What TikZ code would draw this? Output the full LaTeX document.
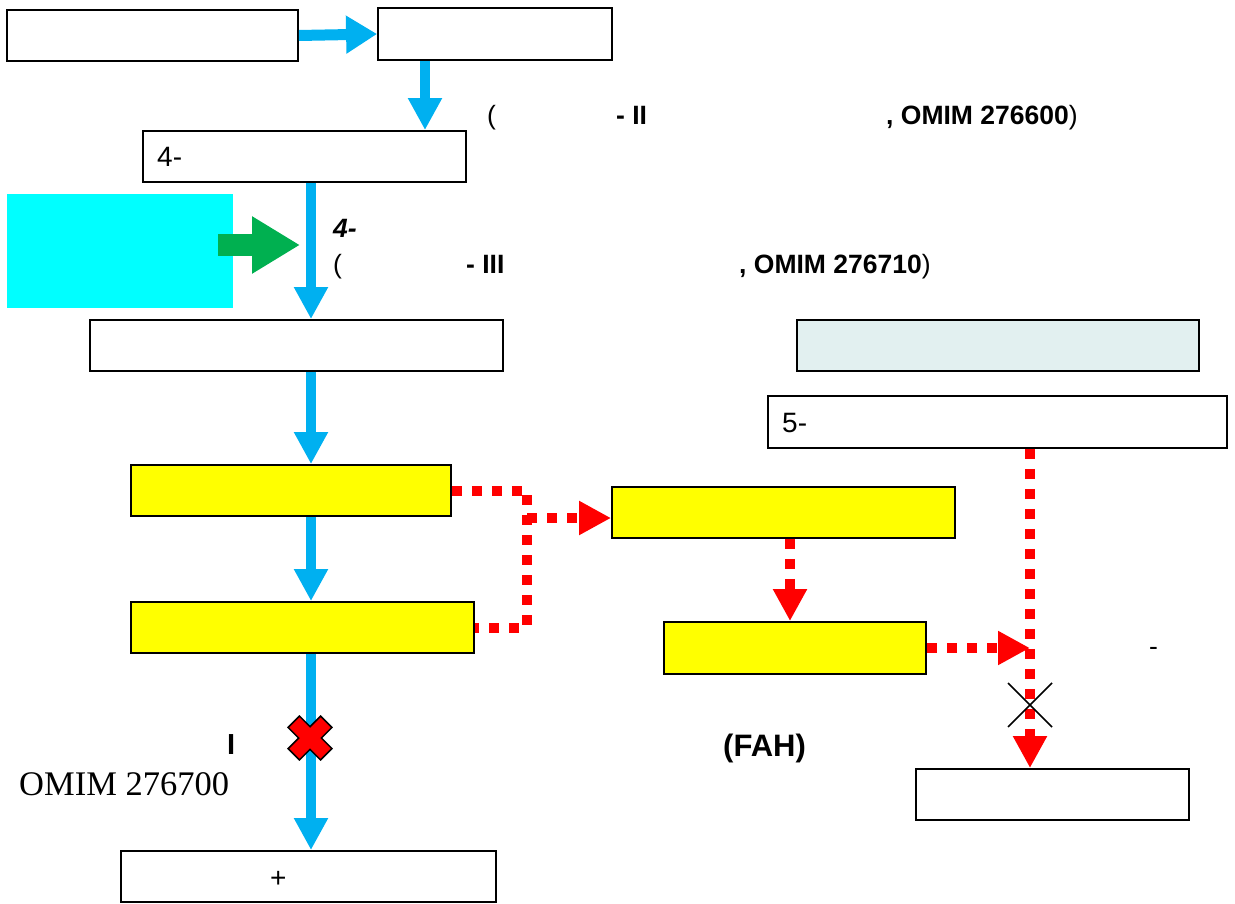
\documentclass[tikz,border=0pt]{standalone}
\usepackage{fontspec}
\setmainfont{Liberation Sans}
\newfontfamily\timesfont{Liberation Serif}
\usetikzlibrary{arrows.meta,calc}
\definecolor{arrblue}{HTML}{00B0F0}
\definecolor{arrgreen}{HTML}{00B050}
\definecolor{boxcyan}{HTML}{00FFFF}
\definecolor{boxpale}{HTML}{E2F0F0}
\definecolor{boxyellow}{HTML}{FFFF00}
\definecolor{arrred}{HTML}{FF0000}
\tikzset{
  box/.style={draw=black, line width=1.8pt, fill=white, inner sep=0pt},
  ybox/.style={box, fill=boxyellow},
  lbl/.style={anchor=base west, inner sep=0pt, font=\fontsize{26.5}{31}\selectfont},
  inlbl/.style={anchor=base west, inner sep=0pt, font=\fontsize{28}{33}\selectfont},
  bluearr/.style={draw=arrblue, line width=10pt, -{Triangle[length=32pt,width=32pt]}},
  redarr/.style={draw=arrred, line width=10pt, dash pattern=on 10pt off 10pt},
  redtip/.style={-{Triangle[length=32pt,width=32pt]}},
}
\begin{document}
\begin{tikzpicture}[x=1pt,y=-1pt]
\useasboundingbox (0,0) rectangle (1235,904);
% boxes
\node[box, minimum width=291pt, minimum height=51pt] (A) at (152.5,35.5) {};
\node[box, minimum width=234pt, minimum height=52pt] (B) at (495,34) {};
\node[box, minimum width=323pt, minimum height=51pt] (C) at (304.5,156.5) {};
\node[fill=boxcyan, inner sep=0pt, minimum width=226pt, minimum height=114pt] (cy) at (120,251) {};
\node[box, minimum width=413pt, minimum height=51pt] (D) at (296.5,345.5) {};
\node[box, fill=boxpale, minimum width=402pt, minimum height=51pt] (E) at (998,345.5) {};
\node[box, minimum width=459pt, minimum height=52pt] (F) at (997.5,422) {};
\node[ybox, minimum width=320pt, minimum height=51pt] (Y1) at (291,490.5) {};
\node[ybox, minimum width=343pt, minimum height=51pt] (Y2) at (302.5,627.5) {};
\node[ybox, minimum width=343pt, minimum height=51pt] (Y3) at (783.5,512.5) {};
\node[ybox, minimum width=262pt, minimum height=52pt] (Y4) at (795,648) {};
\node[box, minimum width=273pt, minimum height=51pt] (G) at (1052.5,794.5) {};
\node[box, minimum width=375pt, minimum height=51pt] (H) at (308.5,876.5) {};
% texts inside boxes
\node[inlbl] (Ct) at (157,167) {4-};
\node[inlbl] (Ft) at (782,432) {5-};
\node[inlbl] (Ht) at (270,887) {+};
% free texts
\node[lbl] (t1) at (487,125) {(};
\node[lbl] (t2) at (616,125) {\bfseries - II};
\node[lbl] (t3) at (886,125) {\textbf{, OMIM 276600})};
\node[lbl] (t4) at (333,238) {\bfseries\itshape 4-};
\node[lbl] (t5) at (333,274) {(};
\node[lbl] (t6) at (466,274) {\bfseries - III};
\node[lbl] (t7) at (739,274) {\textbf{, OMIM 276710})};
\node[lbl] (t8) at (1149,655) {-};
\node[lbl, font=\fontsize{29}{34}\selectfont] (t9) at (227,754) {\bfseries I};
\node[lbl, font=\fontsize{31}{36}\selectfont] (t10) at (723,756) {\bfseries (FAH)};
\node[anchor=base west, inner sep=0pt, font=\timesfont\fontsize{34.5}{40}\selectfont] (t11) at (19,795) {OMIM 276700};
% helper coordinates
\coordinate (xb) at (425,0);
\coordinate (xm) at (311,0);
\coordinate (xj) at (527,0);
\coordinate (xy) at (790,0);
\coordinate (xr) at (1030,0);
\coordinate (yj) at (0,518);
\coordinate (gs) at (218,245);
\coordinate (ge) at (300,245);
% blue arrows
\draw[bluearr, line width=11pt, -{Triangle[length=31pt,width=36pt]}] (A.east) -- (B.west);
\draw[bluearr] (B.south -| xb) -- (C.north -| xb);
\draw[bluearr] (C.south -| xm) -- (D.north -| xm);
\draw[bluearr] (D.south -| xm) -- (Y1.north -| xm);
\draw[bluearr] (Y1.south -| xm) -- (Y2.north -| xm);
\draw[bluearr] (Y2.south -| xm) -- (H.north -| xm);
% green arrow
\draw[draw=arrgreen, line width=22pt, -{Triangle[length=48pt,width=54pt]}] (gs) -- (ge);
% red dotted arrows
\draw[redarr] (Y1.east) -- (Y1.east -| xj) -- (xj |- Y2.east) -- (Y2.east);
\draw[redarr, redtip] (xj |- yj) -- (Y3.west |- yj);
\draw[redarr, redtip] (Y3.south -| xy) -- (Y4.north -| xy);
\draw[redarr, redtip] (F.south -| xr) -- (G.north -| xr);
\draw[redarr, redtip] (Y4.east) -- (Y4.east -| xr);
% black cross
\coordinate (bx) at (1030,705);
\draw[black, line width=1.6pt] ($(bx)+(-22,-22)$) -- ($(bx)+(22,22)$);
\draw[black, line width=1.6pt] ($(bx)+(-22,22)$) -- ($(bx)+(22,-22)$);
% red cross
\coordinate (rx) at (310,738);
\begin{scope}[shift={(rx)}, rotate=45]
\filldraw[fill=arrred, draw=black, line width=1.5pt, line join=miter]
 (8,23) -- (8,8) -- (23,8) -- (23,-8) -- (8,-8) -- (8,-23) -- (-8,-23) -- (-8,-8)
 -- (-23,-8) -- (-23,8) -- (-8,8) -- (-8,23) -- cycle;
\end{scope}
\end{tikzpicture}
\end{document}
